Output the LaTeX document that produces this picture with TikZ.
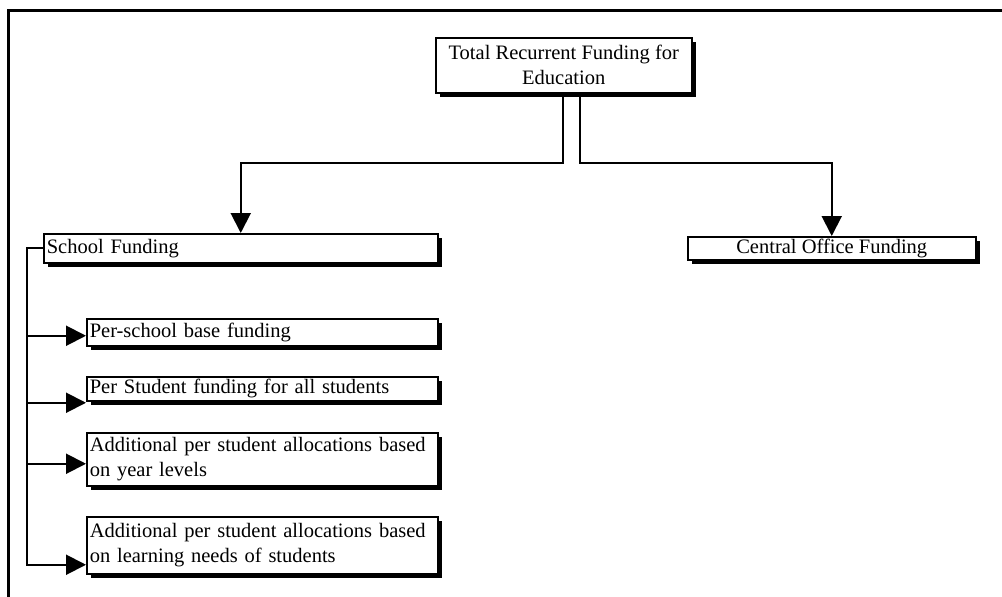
\documentclass[tikz,border=0pt]{standalone}
\usepackage{fontspec}
\setmainfont{Liberation Serif}
\usetikzlibrary{arrows.meta,shadows,calc}
\begin{document}
\begin{tikzpicture}[x=1pt,y=-1pt,
  box/.style={draw=black, line width=1.5pt, fill=white, inner xsep=3pt, inner ysep=2pt,
    drop shadow={shadow xshift=4.5pt, shadow yshift=-4.5pt, fill=black, opacity=1},
    font=\fontsize{20.5}{25}\selectfont, anchor=north west},
  conn/.style={line width=2pt, draw=black},
  tip/.style={-{Triangle[length=20pt,width=20pt]}},
]
\useasboundingbox (0,0) rectangle (1002,597);
\draw[line width=3pt] (8,597) -- (8,10) -- (1002,10);

\node[box, minimum width=256pt, minimum height=55pt, align=center] (top) at (435,37) {Total Recurrent Funding for\\Education};
\node[box, minimum width=394pt, minimum height=29pt, text width=388pt, align=left] (sf) at (43,233) {School Funding};
\node[box, minimum width=288pt, minimum height=23pt, inner ysep=1pt, align=center] (co) at (687,236) {Central Office Funding};

\node[box, minimum height=27pt, text width=345pt, align=left] (c1) at (86,318) {Per-school base funding};
\node[box, minimum height=24pt, inner ysep=1pt, text width=345pt, align=left] (c2) at (86,376) {Per Student funding for all students};
\node[box, minimum height=53pt, text width=345pt, align=left] (c3) at (86,432) {Additional per student allocations based\\on year levels};
\node[box, minimum height=57pt, text width=345pt, align=left] (c4) at (86,516) {Additional per student allocations based\\on learning needs of students};

\coordinate (bus) at (0,163);
\draw[conn,tip] ([xshift=-1pt]top.south) |- (bus -| sf.north) -- (sf.north);
\draw[conn,tip] ([xshift=16pt]top.south) |- (bus -| co.north) -- (co.north);

\coordinate (a1) at ([yshift=-3.5pt]c1.west);
\coordinate (a2) at ([yshift=-14pt]c2.west);
\coordinate (a3) at ([yshift=-4.5pt]c3.west);
\coordinate (a4) at ([yshift=-19.5pt]c4.west);
\draw[conn,tip] (sf.west) -- ++(-16,0) coordinate (spine) |- (a4);
\draw[conn,tip] (spine |- a1) -- (a1);
\draw[conn,tip] (spine |- a2) -- (a2);
\draw[conn,tip] (spine |- a3) -- (a3);
\end{tikzpicture}
\end{document}
